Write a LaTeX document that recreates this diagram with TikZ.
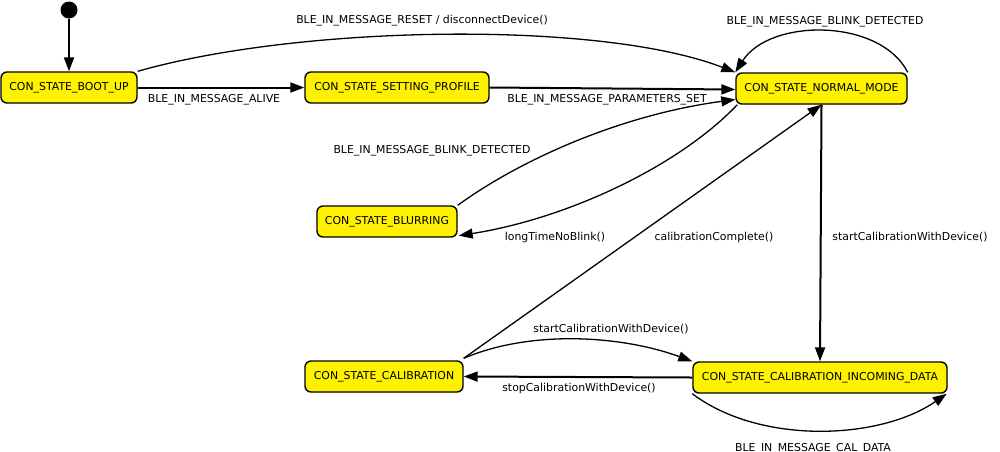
\documentclass[tikz,border=0pt]{standalone}
\usepackage{fontspec}
\setmainfont{DejaVu Sans}
\usetikzlibrary{arrows.meta}
\begin{document}
\begin{tikzpicture}[x=1pt,y=-1pt,
  state/.style={draw=black,line width=1.4pt,fill=yellow,rounded corners=6pt,minimum height=31pt,inner sep=0pt,font=\fontsize{10.9}{12}\selectfont},
  lbl/.style={inner sep=0pt,font=\fontsize{10.9}{12}\selectfont},
  edge/.style={draw=black,line width=1.3pt,-{Triangle[length=14pt,width=10pt]}},
  sedge/.style={edge,line width=2pt}]
\useasboundingbox (0,0) rectangle (1000,451);
\fill[black] (69,10) circle (8.5) coordinate (init);
\node[state,minimum width=136pt] (boot) at (69,87.5) {CON\_STATE\_BOOT\_UP};
\node[state,minimum width=184pt] (setting) at (397,87.5) {CON\_STATE\_SETTING\_PROFILE};
\node[state,minimum width=171pt] (normal) at (821.5,88.5) {CON\_STATE\_NORMAL\_MODE};
\node[state,minimum width=140pt] (blur) at (387,221.5) {CON\_STATE\_BLURRING};
\node[state,minimum width=158pt] (calib) at (384,376.5) {CON\_STATE\_CALIBRATION};
\node[state,minimum width=254pt] (incoming) at (820,377.5) {CON\_STATE\_CALIBRATION\_INCOMING\_DATA};
\coordinate (initb) at (69,18.5);
% edges
\draw[sedge] (initb) -- (boot.north);
\draw[sedge] (boot.east) -- (setting.west);
\draw[sedge] (setting.east) -- ([yshift=-1pt]normal.west);
\draw[edge] (boot.north east) .. controls (300,25) and (600,20) .. (normal.north west);
\draw[edge] (normal.north east) .. controls (880,18) and (770,18) .. (normal.north west);
\draw[edge] (blur.north east) .. controls (520,160) and (620,115) .. ([yshift=-11pt]normal.west);
\draw[edge] ([xshift=2pt]normal.south west) .. controls (680,165) and (570,218) .. ([xshift=1pt,yshift=2pt]blur.south east);
\draw[edge] ([yshift=2pt]calib.north east) -- (normal.south);
\draw[sedge] (normal.south) -- (incoming.north);
\draw[edge] ([yshift=2pt]calib.north east) .. controls (530,330) and (620,335) .. (incoming.north west);
\draw[sedge] (incoming.west) -- (calib.east);
\draw[edge] (incoming.south west) .. controls (760,445) and (880,440) .. ([xshift=-1pt]incoming.south east);
% labels
\node[lbl] (l1) at (214,100) {BLE\_IN\_MESSAGE\_ALIVE};
\node[lbl] (l2) at (607,100) {BLE\_IN\_MESSAGE\_PARAMETERS\_SET};
\node[lbl] (l3) at (422,21) {BLE\_IN\_MESSAGE\_RESET / disconnectDevice()};
\node[lbl] (l4) at (825,22) {BLE\_IN\_MESSAGE\_BLINK\_DETECTED};
\node[lbl] (l5) at (432,151) {BLE\_IN\_MESSAGE\_BLINK\_DETECTED};
\node[lbl] (l6) at (555,237) {longTimeNoBlink()};
\node[lbl] (l7) at (714,237) {calibrationComplete()};
\node[lbl] (l8) at (910,237) {startCalibrationWithDevice()};
\node[lbl] (l9) at (611,329) {startCalibrationWithDevice()};
\node[lbl] (l10) at (579,388) {stopCalibrationWithDevice()};
\node[lbl,anchor=base] (l11) at (813,451.2) {BLE\_IN\_MESSAGE\_CAL\_DATA};
\end{tikzpicture}
\end{document}
